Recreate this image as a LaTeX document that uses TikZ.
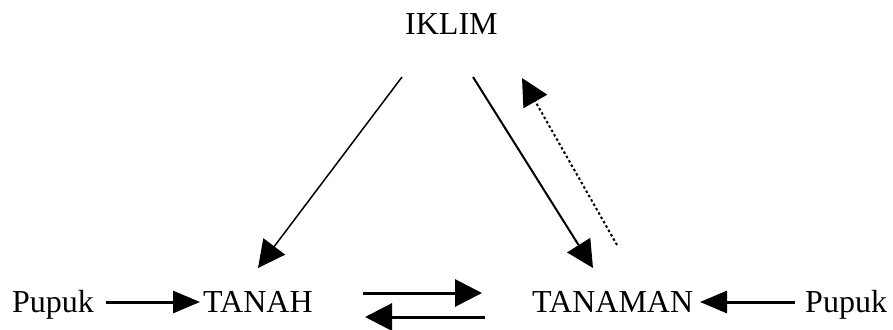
\documentclass[tikz,border=0pt]{standalone}
\usepackage{fontspec}
\setmainfont{Liberation Serif}
\usetikzlibrary{arrows.meta}
\begin{document}
\begin{tikzpicture}[x=1pt,y=-1pt,
  lbl/.style={anchor=base west,inner sep=0pt,font=\fontsize{32}{38}\selectfont},
  bigarrow/.style={line width=3pt,-{Triangle[length=27pt,width=27pt]}},
  smallarrow/.style={line width=3pt,-{Triangle[length=27pt,width=22pt]}},
  diagthin/.style={line width=1.5pt,-{Triangle[length=27pt,width=27pt]}},
  diagmid/.style={line width=2pt,-{Triangle[length=27pt,width=27pt]}},
  dotarrow/.style={line width=2pt,dash pattern=on 2.5pt off 2.5pt,-{Triangle[length=27pt,width=27pt]}}]
\useasboundingbox (0,0) rectangle (893,329);
\node[lbl] (iklim) at (405,35) {IKLIM};
\node[lbl] (pupukL) at (12,312) {Pupuk};
\node[lbl] (tanah) at (203,312) {TANAH};
\node[lbl] (tanaman) at (532,312) {TANAMAN};
\node[lbl] (pupukR) at (805,312) {Pupuk};
% arrow endpoints
\coordinate (a1s) at (106,302); \coordinate (a1e) at (200,302);
\coordinate (a2s) at (363,293); \coordinate (a2e) at (482,293);
\coordinate (a3s) at (485,317); \coordinate (a3e) at (365,317);
\coordinate (a4s) at (795,302); \coordinate (a4e) at (700,302);
\coordinate (d1s) at (402,77);  \coordinate (d1e) at (258,268);
\coordinate (d2s) at (473,77);  \coordinate (d2e) at (593,268);
\coordinate (d3s) at (617,245); \coordinate (d3e) at (522,78);
\draw[smallarrow] (a1s) -- (a1e);
\draw[bigarrow] (a2s) -- (a2e);
\draw[bigarrow] (a3s) -- (a3e);
\draw[smallarrow] (a4s) -- (a4e);
\draw[diagthin] (d1s) -- (d1e);
\draw[diagmid] (d2s) -- (d2e);
\draw[dotarrow] (d3s) -- (d3e);
\end{tikzpicture}
\end{document}
